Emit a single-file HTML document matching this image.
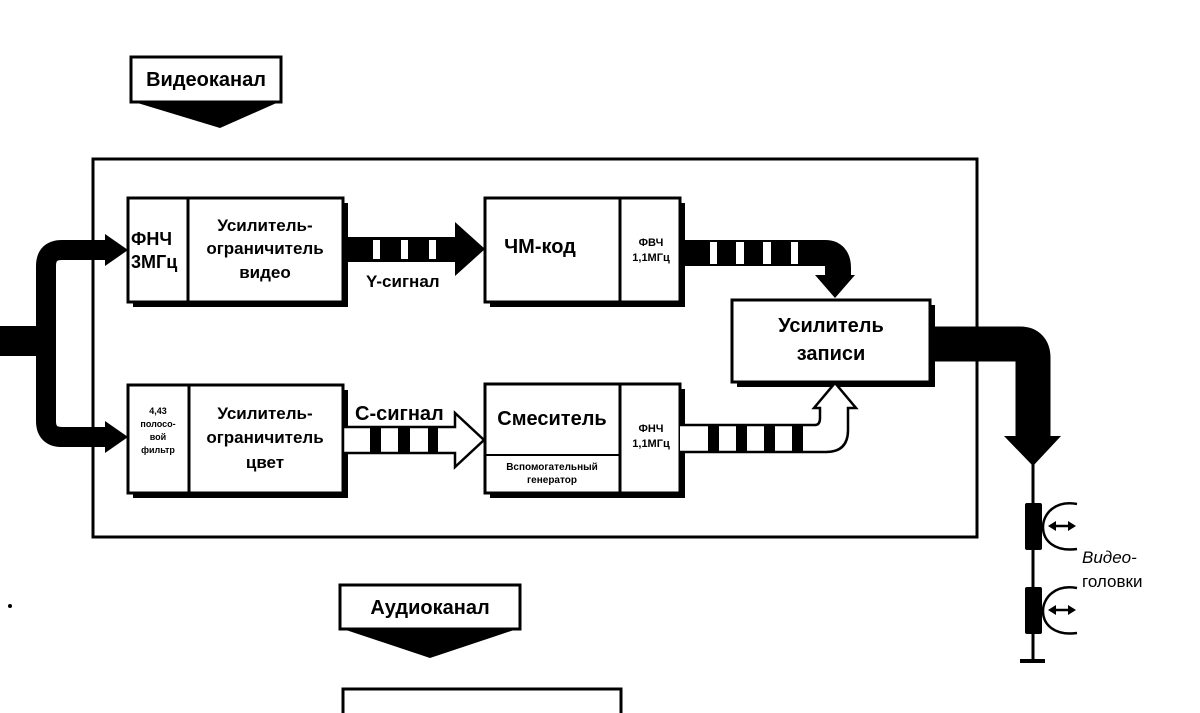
<!DOCTYPE html>
<html><head><meta charset="utf-8"><style>
html,body{margin:0;padding:0;background:#fff;}
svg{display:block;font-family:"Liberation Sans","DejaVu Sans",sans-serif;}
</style></head><body>
<svg width="1200" height="713" viewBox="0 0 1200 713" xmlns="http://www.w3.org/2000/svg">
<!-- Videokanal label -->
<rect x="131" y="57" width="150" height="45" fill="#fff" stroke="#000" stroke-width="3"/>
<polygon points="131,101 281,101 220,128" fill="#000"/>
<text x="206" y="86" font-size="20" font-weight="bold" text-anchor="middle">Видеоканал</text>

<!-- main frame -->
<rect x="93" y="159" width="884" height="378" fill="none" stroke="#000" stroke-width="3"/>

<!-- input bus -->
<rect x="0" y="326" width="50" height="30" fill="#000"/>
<path d="M107,250 H62 Q46,250 46,266 V421 Q46,437 62,437 H107" stroke="#000" stroke-width="20" fill="none"/>
<polygon points="105,234 128,250 105,266" fill="#000"/>
<polygon points="105,421 128,437 105,453" fill="#000"/>

<!-- box shadows -->
<rect x="133" y="203" width="215" height="104" fill="#000"/>
<rect x="133" y="390" width="215" height="108" fill="#000"/>
<rect x="490" y="203" width="195" height="104" fill="#000"/>
<rect x="490" y="389" width="195" height="109" fill="#000"/>
<rect x="737" y="305" width="198" height="82" fill="#000"/>

<!-- top-left box -->
<rect x="128" y="198" width="215" height="104" fill="#fff" stroke="#000" stroke-width="3"/>
<line x1="188" y1="198" x2="188" y2="302" stroke="#000" stroke-width="3"/>
<text font-size="18" font-weight="bold"><tspan x="131" y="245">ФНЧ</tspan><tspan x="131" y="268">3МГц</tspan></text>
<text font-size="17" font-weight="bold" text-anchor="middle"><tspan x="265" y="231">Усилитель-</tspan><tspan x="265" y="254">ограничитель</tspan><tspan x="265" y="278">видео</tspan></text>

<!-- bottom-left box -->
<rect x="128" y="385" width="215" height="108" fill="#fff" stroke="#000" stroke-width="3"/>
<line x1="189" y1="385" x2="189" y2="493" stroke="#000" stroke-width="3"/>
<text font-size="9" font-weight="bold" text-anchor="middle"><tspan x="158" y="414">4,43</tspan><tspan x="158" y="427">полосо-</tspan><tspan x="158" y="440">вой</tspan><tspan x="158" y="453">фильтр</tspan></text>
<text font-size="17" font-weight="bold" text-anchor="middle"><tspan x="265" y="419">Усилитель-</tspan><tspan x="265" y="443">ограничитель</tspan><tspan x="265" y="468">цвет</tspan></text>

<!-- Y-signal arrow -->
<rect x="343" y="237" width="114" height="25" fill="#000"/>
<polygon points="455,222 485,249 455,276" fill="#000"/>
<rect x="373" y="240" width="7" height="19" fill="#fff"/>
<rect x="401" y="240" width="7" height="19" fill="#fff"/>
<rect x="429" y="240" width="7" height="19" fill="#fff"/>
<text x="366" y="287" font-size="17" font-weight="bold">Y-сигнал</text>

<!-- C-signal arrow (hollow) -->
<path d="M343,427 H455 V413 L484,440 L455,467 V453 H343 Z" fill="#fff" stroke="#000" stroke-width="2.5"/>
<rect x="370" y="428" width="11" height="24" fill="#000"/>
<rect x="398" y="428" width="12" height="24" fill="#000"/>
<rect x="428" y="428" width="10" height="24" fill="#000"/>
<text x="355" y="420" font-size="20" font-weight="bold">С-сигнал</text>

<!-- ЧМ-код box -->
<rect x="485" y="198" width="195" height="104" fill="#fff" stroke="#000" stroke-width="3"/>
<line x1="620" y1="198" x2="620" y2="302" stroke="#000" stroke-width="3"/>
<text x="540" y="253" font-size="20" font-weight="bold" text-anchor="middle">ЧМ-код</text>
<text font-size="11" font-weight="bold" text-anchor="middle"><tspan x="651" y="246">ФВЧ</tspan><tspan x="651" y="261">1,1МГц</tspan></text>

<!-- Смеситель box -->
<rect x="485" y="384" width="195" height="109" fill="#fff" stroke="#000" stroke-width="3"/>
<line x1="620" y1="384" x2="620" y2="493" stroke="#000" stroke-width="3"/>
<line x1="485" y1="455" x2="620" y2="455" stroke="#000" stroke-width="2"/>
<text x="552" y="425" font-size="20" font-weight="bold" text-anchor="middle">Смеситель</text>
<text font-size="10" font-weight="bold" text-anchor="middle"><tspan x="552" y="470">Вспомогательный</tspan><tspan x="552" y="483">генератор</tspan></text>
<text font-size="11" font-weight="bold" text-anchor="middle"><tspan x="651" y="432">ФНЧ</tspan><tspan x="651" y="447">1,1МГц</tspan></text>

<!-- top output from ФВЧ -->
<path d="M680,253 H825 Q838,253 838,268 V278" stroke="#000" stroke-width="26" fill="none"/>
<polygon points="815,275 855,275 835,298" fill="#000"/>
<rect x="710" y="242" width="7" height="22" fill="#fff"/>
<rect x="736" y="242" width="8" height="22" fill="#fff"/>
<rect x="763" y="242" width="8" height="22" fill="#fff"/>
<rect x="791" y="242" width="7" height="22" fill="#fff"/>

<!-- bottom output from ФНЧ (hollow) -->
<path d="M680,425 H815 Q820,425 820,418 V408 H814 L835,383 L856,408 H848 V430 Q848,452 826,452 H680" fill="#fff" stroke="#000" stroke-width="2.5"/>
<rect x="708" y="426" width="11" height="25" fill="#000"/>
<rect x="736" y="426" width="11" height="25" fill="#000"/>
<rect x="764" y="426" width="11" height="25" fill="#000"/>
<rect x="792" y="426" width="11" height="25" fill="#000"/>

<!-- Усилитель записи -->
<rect x="732" y="300" width="198" height="82" fill="#fff" stroke="#000" stroke-width="3"/>
<text font-size="20" font-weight="bold" text-anchor="middle"><tspan x="831" y="332">Усилитель</tspan><tspan x="831" y="360">записи</tspan></text>

<!-- big output -->
<path d="M935,344 H1020 Q1033,344 1033,358 V440" stroke="#000" stroke-width="35" fill="none"/>
<polygon points="1004,436 1061,436 1033,466" fill="#000"/>
<line x1="1033" y1="464" x2="1033" y2="661" stroke="#000" stroke-width="3"/>
<line x1="1020" y1="661" x2="1045" y2="661" stroke="#000" stroke-width="4"/>
<rect x="1025" y="503" width="17" height="47" rx="2" fill="#000"/>
<rect x="1025" y="587" width="17" height="47" rx="2" fill="#000"/>
<path d="M1077,504 C1055,500 1043,514 1043,527 C1043,541 1055,552 1077,549" fill="none" stroke="#000" stroke-width="2.5"/>
<path d="M1077,588 C1055,584 1043,598 1043,611 C1043,625 1055,636 1077,633" fill="none" stroke="#000" stroke-width="2.5"/>
<g stroke="#000" stroke-width="2.5"><line x1="1052" y1="526" x2="1072" y2="526"/><line x1="1052" y1="610" x2="1072" y2="610"/></g>
<g fill="#000"><polygon points="1048,526 1056,521 1056,531"/><polygon points="1076,526 1068,521 1068,531"/><polygon points="1048,610 1056,605 1056,615"/><polygon points="1076,610 1068,605 1068,615"/></g>
<text x="1082" y="563" font-size="17" font-style="italic">Видео-</text>
<text x="1082" y="587" font-size="17">головки</text>

<!-- Audiokanal -->
<rect x="340" y="585" width="180" height="44" fill="#fff" stroke="#000" stroke-width="3"/>
<polygon points="340,628 520,628 430,658" fill="#000"/>
<text x="430" y="614" font-size="20" font-weight="bold" text-anchor="middle">Аудиоканал</text>
<path d="M343,713 V689 H621 V713" fill="none" stroke="#000" stroke-width="3"/>
<circle cx="10" cy="606" r="2" fill="#000"/>
</svg>
</body></html>
